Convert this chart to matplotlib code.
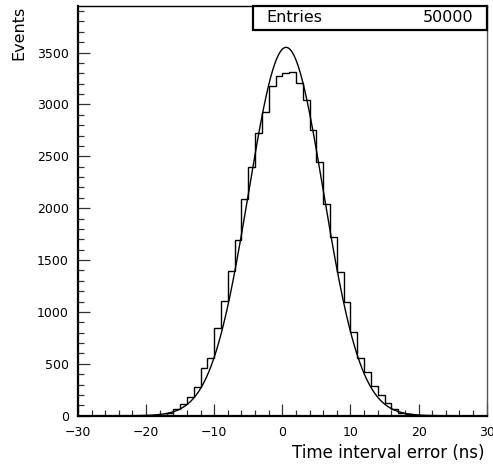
import numpy as np
import matplotlib
matplotlib.use('Agg')
import matplotlib.pyplot as plt
from matplotlib.ticker import MultipleLocator

plt.rcParams['font.family'] = ['DejaVu Sans']

# histogram: 1 ns bins, left edges from -21 to 20
bin_lo = -21
counts = [0, 2, 5, 10, 29, 62, 110, 183, 275, 457, 556,
          842, 1109, 1398, 1694, 2092, 2395, 2722, 2926, 3175, 3276,
          3304, 3314, 3207, 3046, 2751, 2449, 2044, 1720, 1382, 1096,
          810, 553, 426, 286, 202, 118, 60, 31, 15, 6, 2]
entries = 50000

# gaussian fit
fit_amp = 3550.0
fit_mean = 0.55
fit_sigma = 5.5

x_ticks = [-30, -20, -10, 0, 10, 20, 30]
y_ticks = [0, 500, 1000, 1500, 2000, 2500, 3000, 3500]

fig = plt.figure(figsize=(4.93, 4.66), dpi=100)
ax = fig.add_axes([0.1582, 0.1079, 0.8290, 0.8800])

edges = np.arange(bin_lo, bin_lo + len(counts) + 1)
ax.stairs(counts, edges, color='black', linewidth=1.0, baseline=None)

xf = np.linspace(-30, 30, 800)
yf = fit_amp * np.exp(-0.5 * ((xf - fit_mean) / fit_sigma) ** 2)
ax.plot(xf, yf, color='black', linewidth=1.0)

ax.set_xlim(-30, 30)
ax.set_ylim(0, 3952)
ax.set_xticks(x_ticks)
ax.set_yticks(y_ticks)
ax.xaxis.set_minor_locator(MultipleLocator(2))
ax.yaxis.set_minor_locator(MultipleLocator(100))
ax.set_xticklabels(['\u221230', '\u221220', '\u221210', '0', '10', '20', '30'])

ax.tick_params(axis='both', which='major', direction='in', length=8.6, width=0.9,
               color='#333333', labelsize=9)
ax.tick_params(axis='both', which='minor', direction='in', length=4.3, width=0.9,
               color='#333333')
ax.tick_params(axis='x', which='major', pad=7.5)
ax.tick_params(axis='y', which='major', pad=6.5)
ax.tick_params(top=False, right=False, which='both')

ax.spines['left'].set_linewidth(1.6)
ax.spines['bottom'].set_linewidth(1.6)
ax.spines['top'].set_linewidth(1.0)
ax.spines['right'].set_linewidth(1.0)
ax.spines['right'].set_color('#555555')

fig.text(0.038, 0.988, 'Events', rotation=90, ha='center', va='top', fontsize=11.5)
fig.text(0.982, 0.028, 'Time interval error (ns)', ha='right', va='center', fontsize=12)

# stats box
box = plt.Rectangle((0.4275, 0.9407), 0.5725, 0.0593, transform=ax.transAxes,
                    facecolor='white', edgecolor='black', linewidth=1.6,
                    clip_on=False, zorder=5)
ax.add_patch(box)
ax.text(0.46, 0.9703, 'Entries', transform=ax.transAxes, ha='left', va='center',
        fontsize=11.5, zorder=6)
ax.text(0.968, 0.9703, str(entries), transform=ax.transAxes, ha='right', va='center',
        fontsize=11.5, zorder=6)

plt.savefig('out.png', dpi=100)
